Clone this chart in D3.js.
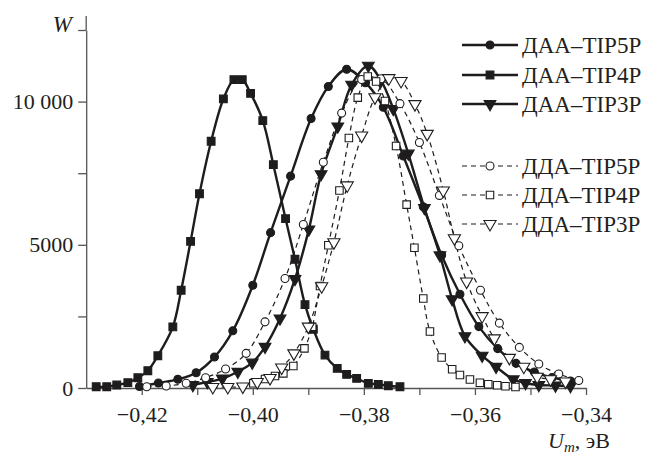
<!DOCTYPE html>
<html>
<head>
<meta charset="utf-8">
<script src="https://cdnjs.cloudflare.com/ajax/libs/d3/7.8.5/d3.min.js"></script>
<style>
body { margin: 0; background: #fff; }
svg text { font-family: "Liberation Serif", "Tinos", "DejaVu Serif", serif; fill: #231f20; }
</style>
</head>
<body>
<div id="chart"></div>
<script>
// data: U_m (eV) and W
var daa5U = [-0.4204, -0.4170, -0.4135, -0.4102, -0.4069, -0.4036, -0.4000, -0.3968, -0.3932, -0.3895, -0.3864, -0.3831, -0.3797, -0.3765, -0.3729, -0.3693, -0.3660, -0.3627, -0.3593, -0.3559, -0.3526, -0.3493, -0.3461, -0.3428];
var daa5W = [50, 174, 303, 533, 1080, 1996, 3589, 5425, 7397, 9407, 10529, 11131, 10660, 9800, 8100, 6330, 4634, 3275, 2143, 1376, 861, 557, 366, 244];

var daa4U = [-0.4282, -0.4263, -0.4245, -0.4225, -0.4207, -0.4189, -0.4171, -0.4144, -0.4129, -0.4112, -0.4096, -0.4075, -0.4053, -0.4034, -0.4019, -0.4004, -0.3982, -0.3963, -0.3941, -0.3924, -0.3906, -0.3891, -0.3870, -0.3848, -0.3831, -0.3813, -0.3792, -0.3774, -0.3756, -0.3735];
var daa4W = [45, 45, 105, 185, 359, 603, 1125, 2135, 3414, 5122, 6783, 8616, 10093, 10766, 10766, 10288, 9337, 7797, 5912, 4494, 2911, 2051, 1150, 686, 476, 338, 164, 129, 80, 45];

var daa3U = [-0.4108, -0.4082, -0.4055, -0.4027, -0.4001, -0.3978, -0.3951, -0.3924, -0.3899, -0.3877, -0.3847, -0.3822, -0.3792, -0.3769, -0.3747, -0.3720, -0.3691, -0.3663, -0.3641, -0.3618, -0.3587, -0.3562, -0.3531, -0.3509, -0.3485, -0.3455, -0.3428];
var daa3W = [105, 209, 331, 568, 888, 1439, 2428, 3808, 5540, 7466, 9135, 10591, 11253, 10730, 9745, 8187, 6289, 4634, 3101, 1812, 1132, 742, 303, 174, 105, 87, 70];

var dda5U = [-0.4191, -0.4156, -0.4120, -0.4085, -0.4049, -0.4012, -0.3978, -0.3942, -0.3909, -0.3873, -0.3840, -0.3804, -0.3769, -0.3735, -0.3700, -0.3664, -0.3629, -0.3590, -0.3556, -0.3520, -0.3485, -0.3449, -0.3413];
var dda5W = [45, 70, 164, 359, 662, 1209, 2310, 3822, 5707, 7884, 9598, 10772, 10800, 9929, 8571, 6724, 4965, 3414, 2265, 1418, 836, 488, 261];

var dda4U = [-0.3999, -0.3978, -0.3960, -0.3945, -0.3927, -0.3907, -0.3893, -0.3879, -0.3864, -0.3844, -0.3827, -0.3811, -0.3793, -0.3778, -0.3762, -0.3742, -0.3723, -0.3709, -0.3693, -0.3681, -0.3660, -0.3641, -0.3627, -0.3609, -0.3591, -0.3576, -0.3560, -0.3545, -0.3527];
var dda4W = [164, 314, 418, 512, 767, 1383, 2136, 3561, 4982, 6898, 8727, 10138, 10877, 10703, 10023, 8449, 6404, 4895, 3125, 1975, 1063, 655, 453, 296, 185, 132, 94, 59, 35];

var dda3U = [-0.4072, -0.4045, -0.4018, -0.3992, -0.3969, -0.3948, -0.3926, -0.3900, -0.3876, -0.3854, -0.3830, -0.3804, -0.3780, -0.3755, -0.3733, -0.3708, -0.3686, -0.3657, -0.3637, -0.3615, -0.3587, -0.3565, -0.3538, -0.3512, -0.3488, -0.3464, -0.3437];
var dda3W = [35, 35, 52, 209, 348, 714, 1209, 2143, 3554, 5087, 7073, 8815, 10149, 10818, 10720, 9912, 8874, 6898, 5226, 3717, 2508, 1732, 1052, 742, 394, 303, 226];

var seriesNames = ["ДАА–TIP5P", "ДАА–TIP4P", "ДАА–TIP3P", "ДДА–TIP5P", "ДДА–TIP4P", "ДДА–TIP3P"];
var xTicks = [-0.42, -0.41, -0.40, -0.39, -0.38, -0.37, -0.36, -0.35, -0.34];
var yTicks = [0, 2500, 5000, 7500, 10000, 12500];
var yTickLabels = ["0", "", "5000", "", "10 000", ""];

var width = 654, height = 456;
var ink = "#1e1c1d";
var axisColor = "#555";
var serif = "'Liberation Serif', 'Tinos', 'DejaVu Serif', serif";

var svg = d3.select("#chart").append("svg")
    .attr("width", width)
    .attr("height", height);

var x = d3.scaleLinear().domain([-0.43, -0.34]).range([86.2, 586]);
var y = d3.scaleLinear().domain([0, 12500]).range([388, 30]);

function zip(us, ws) {
    return us.map(function (u, i) { return {u: u, w: ws[i]}; });
}

var series = [
    {name: seriesNames[0], data: zip(daa5U, daa5W), sym: d3.symbolCircle, size: 50, fill: ink, dash: null, rot: 0},
    {name: seriesNames[1], data: zip(daa4U, daa4W), sym: d3.symbolSquare, size: 60, fill: ink, dash: null, rot: 0},
    {name: seriesNames[2], data: zip(daa3U, daa3W), sym: d3.symbolTriangle, size: 60, fill: ink, dash: null, rot: 180},
    {name: seriesNames[3], data: zip(dda5U, dda5W), sym: d3.symbolCircle, size: 50, fill: "#fff", dash: "5,4", rot: 0},
    {name: seriesNames[4], data: zip(dda4U, dda4W), sym: d3.symbolSquare, size: 56, fill: "#fff", dash: "5,4", rot: 0},
    {name: seriesNames[5], data: zip(dda3U, dda3W), sym: d3.symbolTriangle, size: 64, fill: "#fff", dash: "5,4", rot: 180}
];

// axes
var xAxis = svg.append("g")
    .attr("transform", "translate(0," + y(0) + ")")
    .call(d3.axisBottom(x)
        .tickValues(xTicks)
        .tickSize(7)
        .tickSizeOuter(0)
        .tickPadding(11)
        .tickFormat(function (d) {
            var k = Math.round(-d * 100);
            return k % 2 === 0 ? "\u22120," + k : "";
        }));

var yAxis = svg.append("g")
    .attr("transform", "translate(" + x(-0.43) + ",0)")
    .call(d3.axisLeft(y)
        .tickValues(yTicks)
        .tickSize(8)
        .tickSizeOuter(0)
        .tickPadding(5)
        .tickFormat(function (d, i) { return yTickLabels[i]; }));

svg.selectAll("g").attr("font-family", serif);
svg.selectAll(".domain, .tick line")
    .attr("stroke", axisColor)
    .attr("stroke-width", 1.3);
svg.selectAll(".tick text")
    .style("font-size", "22px")
    .style("font-family", serif)
    .attr("fill", "#231f20");

svg.append("line")
    .attr("x1", x(-0.43)).attr("x2", x(-0.43))
    .attr("y1", 16).attr("y2", y(12500))
    .attr("stroke", axisColor)
    .attr("stroke-width", 1.3);

svg.append("text")
    .text("W")
    .attr("x", 72)
    .attr("y", 32)
    .attr("text-anchor", "end")
    .style("font-family", serif)
    .style("font-size", "23px")
    .style("font-style", "italic");

var xLabel = svg.append("text")
    .attr("x", 548)
    .attr("y", 448)
    .style("font-family", serif)
    .style("font-size", "22px");
xLabel.append("tspan").text("U").style("font-style", "italic");
xLabel.append("tspan").text("m").style("font-style", "italic")
    .style("font-size", "15px").attr("dy", 4);
xLabel.append("tspan").text(", эВ").attr("dy", -4);

// curves
var line = d3.line()
    .x(function (d) { return x(d.u); })
    .y(function (d) { return y(d.w); })
    .curve(d3.curveCatmullRom.alpha(0.5));

var plot = svg.append("g");

series.forEach(function (s) {
    plot.append("path")
        .datum(s.data)
        .attr("d", line)
        .attr("fill", "none")
        .attr("stroke", ink)
        .attr("stroke-width", s.dash ? 1.2 : 2.4)
        .attr("stroke-dasharray", s.dash);
});

series.forEach(function (s) {
    plot.selectAll(null)
        .data(s.data)
        .enter()
        .append("path")
        .attr("d", d3.symbol().type(s.sym).size(s.size))
        .attr("transform", function (d) {
            return "translate(" + x(d.u) + "," + y(d.w) + ") rotate(" + s.rot + ")";
        })
        .attr("fill", s.fill)
        .attr("stroke", ink)
        .attr("stroke-width", 1.1);
});

// legend
var legendY = [45, 75, 104, 166, 195, 224];
var legend = svg.append("g");

series.forEach(function (s, i) {
    var g = legend.append("g").attr("transform", "translate(0," + legendY[i] + ")");
    g.append("line")
        .attr("x1", 462).attr("x2", 518)
        .attr("y1", 0).attr("y2", 0)
        .attr("stroke", ink)
        .attr("stroke-width", s.dash ? 1.2 : 2.4)
        .attr("stroke-dasharray", s.dash);
    g.append("path")
        .attr("d", d3.symbol().type(s.sym).size(s.size))
        .attr("transform", "translate(490,0) rotate(" + s.rot + ")")
        .attr("fill", s.fill)
        .attr("stroke", ink)
        .attr("stroke-width", 1.1);
    g.append("text")
        .text(s.name)
        .attr("x", 522)
        .attr("y", 8)
        .style("font-family", serif)
        .style("font-size", "23px");
});
</script>
</body>
</html>
